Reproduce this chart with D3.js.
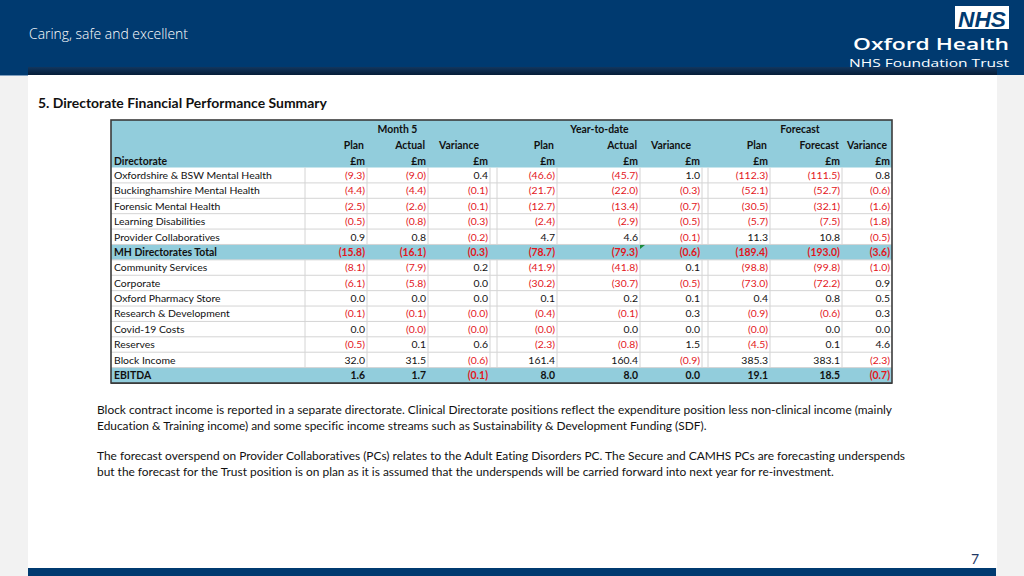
<!DOCTYPE html>
<html><head><meta charset="utf-8">
<script src="https://cdn.jsdelivr.net/npm/d3@7"></script>
<style>
html,body{margin:0;padding:0;background:#f2f2f2;}
svg{display:block;font-family:Lato,"Liberation Sans",sans-serif;font-variant-ligatures:none;}
</style></head>
<body>
<svg id="c" width="1024" height="576"></svg>
<script>
// ---------- DATA ----------
const directorates = ["Oxfordshire & BSW Mental Health","Buckinghamshire Mental Health","Forensic Mental Health","Learning Disabilities","Provider Collaboratives","MH Directorates Total","Community Services","Corporate","Oxford Pharmacy Store","Research & Development","Covid-19 Costs","Reserves","Block Income","EBITDA"];
const totalRows = ["MH Directorates Total","EBITDA"];
const groups = ["Month 5","Year-to-date","Forecast"];
const subHeaders = [["Plan","Actual","Variance"],["Plan","Actual","Variance"],["Plan","Forecast","Variance"]];
const unitLabel = "£m";
const m5Plan     = [-9.3,-4.4,-2.5,-0.5,0.9,-15.8,-8.1,-6.1,0.0,-0.1,0.0,-0.5,32.0,1.6];
const m5Actual   = [-9.0,-4.4,-2.6,-0.8,0.8,-16.1,-7.9,-5.8,0.0,-0.1,-0,0.1,31.5,1.7];
const m5Var      = [0.4,-0.1,-0.1,-0.3,-0.2,-0.3,0.2,0.0,0.0,-0,-0,0.6,-0.6,-0.1];
const ytdPlan    = [-46.6,-21.7,-12.7,-2.4,4.7,-78.7,-41.9,-30.2,0.1,-0.4,-0,-2.3,161.4,8.0];
const ytdActual  = [-45.7,-22.0,-13.4,-2.9,4.6,-79.3,-41.8,-30.7,0.2,-0.1,0.0,-0.8,160.4,8.0];
const ytdVar     = [1.0,-0.3,-0.7,-0.5,-0.1,-0.6,0.1,-0.5,0.1,0.3,0.0,1.5,-0.9,0.0];
const fcPlan     = [-112.3,-52.1,-30.5,-5.7,11.3,-189.4,-98.8,-73.0,0.4,-0.9,-0,-4.5,385.3,19.1];
const fcForecast = [-111.5,-52.7,-32.1,-7.5,10.8,-193.0,-99.8,-72.2,0.8,-0.6,0.0,0.1,383.1,18.5];
const fcVar      = [0.8,-0.6,-1.6,-1.8,-0.5,-3.6,-1.0,0.9,0.5,0.3,0.0,4.6,-2.3,-0.7];
const seriesCols = [m5Plan,m5Actual,m5Var,ytdPlan,ytdActual,ytdVar,fcPlan,fcForecast,fcVar];
const notes = [
 "Block contract income is reported in a separate directorate. Clinical Directorate positions reflect the expenditure position less non-clinical income (mainly",
 "Education & Training income) and some specific income streams such as Sustainability & Development Funding (SDF).",
 "The forecast overspend on Provider Collaboratives (PCs) relates to the Adult Eating Disorders PC. The Secure and CAMHS PCs are forecasting underspends",
 "but the forecast for the Trust position is on plan as it is assumed that the underspends will be carried forward into next year for re-investment."
];
const tagline = "Caring, safe and excellent";
const orgName = "Oxford Health";
const orgSub = "NHS Foundation Trust";
const title = "5. Directorate Financial Performance Summary";
const pageNo = "7";

// ---------- LAYOUT ----------
const NAVY = "#003a70", BLUE = "#92cddc", RED = "#e3151b", GRID = "#d4d4d4";
const svg = d3.select("#c");
function fit(sel, w){ // scale font size so text width matches w
  const n = sel.node(); const fs = parseFloat(sel.attr("font-size"));
  const cur = n.getComputedTextLength(); sel.attr("font-size", (fs*w/cur).toFixed(2));
}
// background
svg.append("rect").attr("width",1024).attr("height",576).attr("fill","#f2f2f2");
svg.append("rect").attr("x",28).attr("y",75).attr("width",969).attr("height",493).attr("fill","#fff");
svg.append("rect").attr("width",1024).attr("height",75).attr("fill",NAVY);
const dg = svg.append("defs").append("linearGradient").attr("id","band").attr("x1",0).attr("x2",0).attr("y1",0).attr("y2",1);
dg.append("stop").attr("offset",0).attr("stop-color","#12365e");
dg.append("stop").attr("offset",1).attr("stop-color","#061d38");
svg.append("rect").attr("x",28).attr("y",67).attr("width",969).attr("height",8).attr("fill","url(#band)");
svg.append("rect").attr("x",0).attr("y",75).attr("width",28).attr("height",1).attr("fill","#7f9fbf");
svg.append("rect").attr("x",28).attr("y",568).attr("width",968).attr("height",8).attr("fill",NAVY);

// header text
const tl = svg.append("text").attr("x",29).attr("y",39).attr("font-size",14).attr("fill","#fff")
  .style("font-family","'Open Sans',sans-serif").style("font-weight",300).text(tagline);
fit(tl,159);
svg.append("rect").attr("x",955).attr("y",6).attr("width",54).attr("height",23).attr("fill","#fff");
svg.append("text").attr("x",982).attr("y",26.5).attr("text-anchor","middle").attr("font-size",22)
  .style("font-family","'Liberation Sans',Arial,sans-serif").style("font-weight",700).style("font-style","italic")
  .attr("fill",NAVY).attr("textLength",48).attr("lengthAdjust","spacingAndGlyphs").text("NHS");
svg.append("text").attr("x",1009).attr("y",50).attr("text-anchor","end").attr("font-size",16)
  .style("font-family","'Open Sans',sans-serif").style("font-weight",600).attr("fill","#fff")
  .attr("textLength",156).attr("lengthAdjust","spacingAndGlyphs").text(orgName);
svg.append("text").attr("x",1009).attr("y",66.5).attr("text-anchor","end").attr("font-size",11.5)
  .style("font-family","'Open Sans',sans-serif").attr("fill","#fff")
  .attr("textLength",160).attr("lengthAdjust","spacingAndGlyphs").text(orgSub);

// title
const tt = svg.append("text").attr("x",38).attr("y",108).attr("font-size",13).style("font-weight",700).attr("fill","#111").text(title);
fit(tt,289);

// ---------- TABLE ----------
const colKeys = d3.range(9);
const colRight = d3.scaleOrdinal().domain(colKeys).range([367,428,490,557,640,702,770,842,892]);
const colLeft  = d3.scaleOrdinal().domain(colKeys).range([305,367,428,497,557,640,708,770,842]);
const tableL = 111, tableR = 892, tableT = 120;
const y = d3.scaleBand().domain(d3.range(directorates.length)).range([167.5,383]);
const hy = d3.scaleBand().domain([0,1,2]).range([tableT,167.5]);
const g = svg.append("g");

g.append("rect").attr("x",tableL).attr("y",tableT).attr("width",tableR-tableL).attr("height",167.5-tableT).attr("fill",BLUE);
directorates.forEach((d,i)=>{
  if(totalRows.includes(d)) g.append("rect").attr("x",tableL).attr("y",y(i)).attr("width",tableR-tableL).attr("height",y.bandwidth()).attr("fill",BLUE);
});
d3.range(1,directorates.length).forEach(i=>{
  g.append("line").attr("x1",tableL).attr("x2",tableR).attr("y1",y(i)).attr("y2",y(i)).attr("stroke",GRID).attr("stroke-width",1);
});
const vEdges = [305,367,428,490,497,557,640,702,708,770,842];
directorates.forEach((d,i)=>{
  if(totalRows.includes(d)) return;
  vEdges.forEach(x=>{
    g.append("line").attr("x1",x).attr("x2",x).attr("y1",y(i)).attr("y2",y(i)+y.bandwidth()).attr("stroke",GRID);
  });
});
g.append("rect").attr("x",tableL).attr("y",tableT).attr("width",tableR-tableL).attr("height",383-tableT)
  .attr("fill","none").attr("stroke","#3b3b3b").attr("stroke-width",1.6);
g.append("line").attr("x1",tableL).attr("x2",tableR).attr("y1",383.5).attr("y2",383.5).attr("stroke","#3b3b3b").attr("stroke-width",1.2);

const probe = g.append("text").attr("font-size",12).text(directorates[0]);
fit(probe,158); const FS = +probe.attr("font-size"); probe.remove();

groups.forEach((gn,k)=>{
  const cx = (colLeft(k*3) + colRight(k*3+2))/2;
  g.append("text").attr("x",cx).attr("y",hy(0)+hy.bandwidth()-3).attr("text-anchor","middle")
    .attr("font-size",FS).style("font-weight",700).attr("fill","#111").text(gn);
  subHeaders[k].forEach((s,j)=>{
    const c = k*3+j;
    const isVar = j===2;
    g.append("text").attr("x", isVar ? (colLeft(c)+colRight(c))/2 : colRight(c)-3)
      .attr("y",hy(1)+hy.bandwidth()-3).attr("text-anchor", isVar?"middle":"end")
      .attr("font-size",FS).style("font-weight",700).attr("fill","#111").text(s);
  });
});
colKeys.forEach(c=>{
  g.append("text").attr("x",colRight(c)-2).attr("y",hy(2)+hy.bandwidth()-3).attr("text-anchor","end")
    .attr("font-size",FS).style("font-weight",700).attr("fill","#111").text(unitLabel);
});
g.append("text").attr("x",114).attr("y",hy(2)+hy.bandwidth()-3).attr("font-size",FS).style("font-weight",700).attr("fill","#111").text("Directorate");

const fmt = d3.format(".1f");
function isNeg(v){ return v<0 || Object.is(v,-0); }
directorates.forEach((d,i)=>{
  const tot = totalRows.includes(d);
  const by = y(i)+y.bandwidth()/2+FS*0.36;
  g.append("text").attr("x",114).attr("y",by).attr("font-size",FS).style("font-weight",tot?700:400).attr("fill","#111").text(d);
  seriesCols.forEach((arr,c)=>{
    const v = arr[i]; const neg = isNeg(v);
    g.append("text").attr("x",colRight(c)-2).attr("y",by).attr("text-anchor","end")
      .attr("font-size",FS).style("font-weight",tot?700:400).attr("fill",neg?RED:"#111")
      .text(neg ? "("+fmt(Math.abs(v))+")" : fmt(v));
  });
});
g.append("path").attr("d",`M${640},${y(5)+0.5} l5,0 l-5,4 z`).attr("fill","#1e8a3c");

// ---------- NOTES ----------
const lineY = [414,430,460,476];
const p0 = svg.append("text").attr("x",97).attr("y",lineY[0]).attr("font-size",12).attr("fill","#111").text(notes[0]);
fit(p0,795); const PFS = +p0.attr("font-size");
notes.slice(1).forEach((t,i)=>{
  svg.append("text").attr("x",97).attr("y",lineY[i+1]).attr("font-size",PFS).attr("fill","#111").text(t);
});

svg.append("text").attr("x",979).attr("y",564).attr("text-anchor","end").attr("font-size",14).attr("fill","#1f3864").text(pageNo);
</script>
</body></html>
